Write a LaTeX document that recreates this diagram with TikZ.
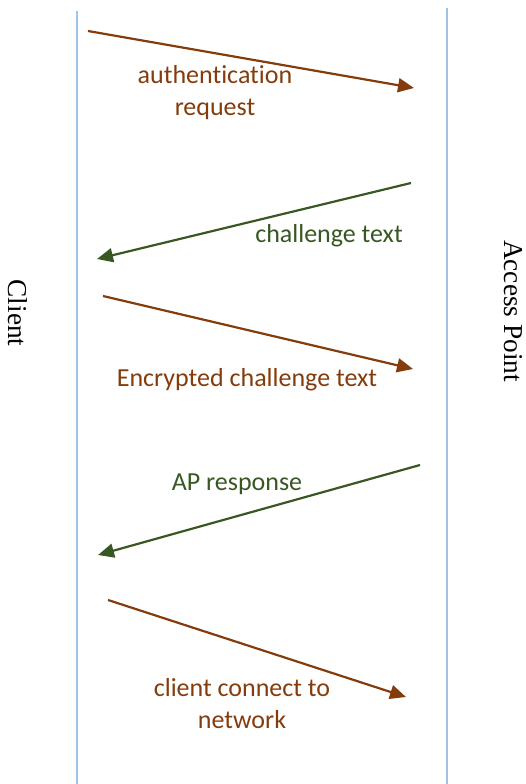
\documentclass[tikz,border=0pt]{standalone}
\usepackage{fontspec}
\setmainfont{Liberation Serif}
\newfontfamily\lblfont[Ligatures=NoCommon]{Carlito}
\usetikzlibrary{arrows.meta}
\definecolor{lifeblue}{HTML}{9DC3E6}
\definecolor{msgbrown}{HTML}{843C0C}
\definecolor{msggreen}{HTML}{385723}
\tikzset{
  lifeline/.style={draw=lifeblue, line width=2pt},
  msg/.style={line width=2.2pt, -{Triangle[length=16pt,width=14pt]}},
  brownmsg/.style={msg, draw=msgbrown, fill=msgbrown},
  greenmsg/.style={msg, draw=msggreen, fill=msggreen},
  lbl/.style={font=\lblfont\fontsize{26}{32}\selectfont, align=center, inner sep=0pt},
  brownlbl/.style={lbl, text=msgbrown},
  greenlbl/.style={lbl, text=msggreen},
  actor/.style={font=\fontsize{27.3}{32}\selectfont, rotate=-90, inner sep=0pt}
}
\begin{document}
\begin{tikzpicture}[x=1pt,y=-1pt]
\useasboundingbox (0,0) rectangle (526,784);
% lifelines
\coordinate (l1) at (77,11);
\coordinate (l2) at (77,784);
\coordinate (r1) at (447,8);
\coordinate (r2) at (447,784);
\draw[lifeline] (l1) -- (l2);
\draw[lifeline] (r1) -- (r2);
% actors
\node[actor] (client) at (18,313) {Client};
\node[actor] (ap) at (513,311) {Access Point};
% messages
\coordinate (m1s) at (88,31);   \coordinate (m1e) at (414,88);
\coordinate (m2s) at (411,183); \coordinate (m2e) at (97,259);
\coordinate (m3s) at (103,296); \coordinate (m3e) at (413,369);
\coordinate (m4s) at (420,465); \coordinate (m4e) at (98,555);
\coordinate (m5s) at (108,600); \coordinate (m5e) at (406,697);
\draw[brownmsg] (m1s) -- (m1e);
\draw[greenmsg] (m2s) -- (m2e);
\draw[brownmsg] (m3s) -- (m3e);
\draw[greenmsg] (m4s) -- (m4e);
\draw[brownmsg] (m5s) -- (m5e);
% labels
\node[brownlbl] (t1) at (215,93) {authentication\\request};
\node[greenlbl] (t2) at (329,236) {challenge text};
\node[brownlbl] (t3) at (247,380) {Encrypted challenge text};
\node[greenlbl] (t4) at (237,484) {AP response};
\node[brownlbl] (t5) at (242,704) {client connect to\\network};
\end{tikzpicture}
\end{document}
